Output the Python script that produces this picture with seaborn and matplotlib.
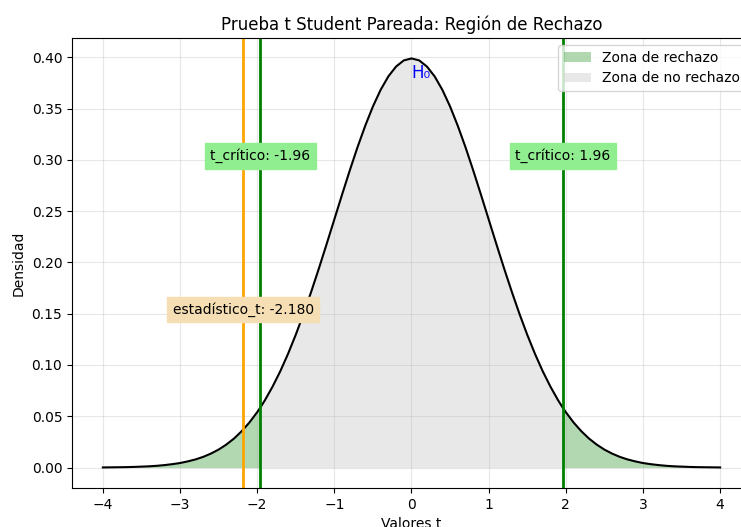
import numpy as np
import pandas as pd
import matplotlib
matplotlib.use("Agg")
import matplotlib.pyplot as plt
import seaborn as sns

# Density curve values
t_vals = [-4.0, -3.9, -3.8, -3.7, -3.6, -3.5, -3.4, -3.3, -3.2, -3.1, -3.0,
          -2.9, -2.8, -2.7, -2.6, -2.5, -2.4, -2.3, -2.2, -2.1, -2.0, -1.96,
          -1.9, -1.8, -1.7, -1.6, -1.5, -1.4, -1.3, -1.2, -1.1, -1.0,
          -0.9, -0.8, -0.7, -0.6, -0.5, -0.4, -0.3, -0.2, -0.1, 0.0,
          0.1, 0.2, 0.3, 0.4, 0.5, 0.6, 0.7, 0.8, 0.9, 1.0,
          1.1, 1.2, 1.3, 1.4, 1.5, 1.6, 1.7, 1.8, 1.9, 1.96, 2.0,
          2.1, 2.2, 2.3, 2.4, 2.5, 2.6, 2.7, 2.8, 2.9, 3.0,
          3.1, 3.2, 3.3, 3.4, 3.5, 3.6, 3.7, 3.8, 3.9, 4.0]
densidad = [0.0001, 0.0002, 0.0003, 0.0004, 0.0006, 0.0009, 0.0012, 0.0017, 0.0024, 0.0033, 0.0044,
            0.0060, 0.0079, 0.0104, 0.0136, 0.0175, 0.0224, 0.0283, 0.0355, 0.0440, 0.0540, 0.0584,
            0.0656, 0.0790, 0.0940, 0.1109, 0.1295, 0.1497, 0.1714, 0.1942, 0.2179, 0.2420,
            0.2661, 0.2897, 0.3123, 0.3332, 0.3521, 0.3683, 0.3814, 0.3910, 0.3970, 0.3989,
            0.3970, 0.3910, 0.3814, 0.3683, 0.3521, 0.3332, 0.3123, 0.2897, 0.2661, 0.2420,
            0.2179, 0.1942, 0.1714, 0.1497, 0.1295, 0.1109, 0.0940, 0.0790, 0.0656, 0.0584, 0.0540,
            0.0440, 0.0355, 0.0283, 0.0224, 0.0175, 0.0136, 0.0104, 0.0079, 0.0060, 0.0044,
            0.0033, 0.0024, 0.0017, 0.0012, 0.0009, 0.0006, 0.0004, 0.0003, 0.0002, 0.0001]

t_critico = 1.96
estadistico_t = -2.180

df = pd.DataFrame({"t": t_vals, "dens": densidad})
t = df["t"].to_numpy()
d = df["dens"].to_numpy()

fig = plt.figure(figsize=(7.41, 5.27), dpi=100)
W, H = 741, 527
ax_w = 751 - 72
ax = fig.add_axes([72 / W, (H - 488) / H, ax_w / W, (488 - 38) / H])

sns.lineplot(x=t, y=d, color="black", linewidth=1.5, ax=ax)

ax.fill_between(t, d, where=(t <= -t_critico), color="green", alpha=0.3,
                label="Zona de rechazo", linewidth=0)
ax.fill_between(t, d, where=(t >= t_critico), color="green", alpha=0.3, linewidth=0)
ax.fill_between(t, d, where=((t >= -t_critico) & (t <= t_critico)), color="lightgray",
                alpha=0.5, label="Zona de no rechazo", linewidth=0)

ax.axvline(-t_critico, color="green", linewidth=2)
ax.axvline(t_critico, color="green", linewidth=2)
ax.axvline(estadistico_t, color="orange", linewidth=2)

ax.text(-t_critico, 0.30, f"t_crítico: {-t_critico:.2f}", ha="center",
        fontsize=10, bbox=dict(facecolor="lightgreen", edgecolor="lightgreen", alpha=1.0))
ax.text(t_critico, 0.30, f"t_crítico: {t_critico:.2f}", ha="center",
        fontsize=10, bbox=dict(facecolor="lightgreen", edgecolor="lightgreen", alpha=1.0))
ax.text(estadistico_t, 0.15, f"estadístico_t: {estadistico_t:.3f}", ha="center",
        fontsize=10, bbox=dict(facecolor="wheat", edgecolor="wheat", alpha=1.0))
ax.text(0, 0.38, "H₀", color="blue", fontsize=12)

ax.set_title("Prueba t Student Pareada: Región de Rechazo", fontsize=12)
ax.set_xlabel("Valores t")
ax.set_ylabel("Densidad")
ax.grid(True, alpha=0.3)
ax.legend(loc="upper right", bbox_to_anchor=(1 + 2 / ax_w, 1))

fig.savefig("out.png", dpi=100)
